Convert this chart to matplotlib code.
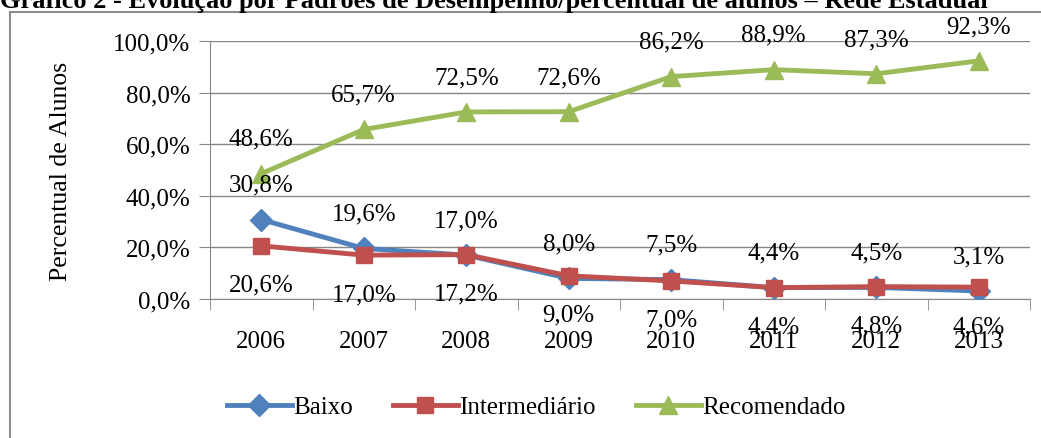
import matplotlib.pyplot as plt
from matplotlib.patches import Rectangle

plt.rcParams['font.family'] = ['Liberation Serif', 'DejaVu Serif']

anos = ['2006', '2007', '2008', '2009', '2010', '2011', '2012', '2013']
baixo = [30.8, 19.6, 17.0, 8.0, 7.5, 4.4, 4.5, 3.1]
intermediario = [20.6, 17.0, 17.2, 9.0, 7.0, 4.4, 4.8, 4.6]
recomendado = [48.6, 65.7, 72.5, 72.6, 86.2, 88.9, 87.3, 92.3]

titulo = 'Gráfico 2 - Evolução por Padrões de Desempenho/percentual de alunos – Rede Estadual'

fig = plt.figure(figsize=(10.41, 4.39), dpi=100)
ax = fig.add_axes([210 / 1041, 1 - 300 / 439, 820 / 1041, 258 / 439])

# moldura cinza do gráfico
fig.patches.append(Rectangle((10 / 1041, -0.1), 1.2, 1 - 13 / 439 + 0.1,
                             transform=fig.transFigure, fill=False,
                             edgecolor='#8c8c8c', linewidth=1.5))
fig.text(0.0, 1 - 8 / 439, titulo, fontsize=19, fontweight='bold',
         ha='left', va='baseline')

x = list(range(len(anos)))
series = [
    ('Baixo', baixo, '#4F81BD', 'D', 11, 25),
    ('Intermediário', intermediario, '#C0504D', 's', 12, -28),
    ('Recomendado', recomendado, '#9BBB59', '^', 13, 25),
]
for nome, vals, cor, mk, ms, off in series:
    ax.plot(x, vals, color=cor, linewidth=3.5, marker=mk, markersize=ms,
            label=nome, zorder=3)
    for xi, v in zip(x, vals):
        ax.annotate(f'{v:.1f}%'.replace('.', ','), (xi, v),
                    xytext=(0, off), textcoords='offset points',
                    ha='center', va='center', fontsize=18, zorder=4)

ax.set_xlim(-0.5, len(anos) - 0.5)
ax.set_ylim(0, 100)
ax.set_yticks(range(0, 101, 20))
ax.set_yticklabels([f'{v},0%' for v in range(0, 101, 20)], fontsize=18)
ax.set_xticks(x)
ax.set_xticklabels(anos, fontsize=18)
ax.set_xticks([i - 0.5 for i in range(len(anos) + 1)], minor=True)
ax.tick_params(axis='x', which='major', length=0, pad=22)
ax.tick_params(axis='x', which='minor', length=8, color='#878787')
ax.tick_params(axis='y', length=8, color='#878787', pad=6)
ax.grid(axis='y', color='#878787', linewidth=1)
ax.set_axisbelow(True)
for s in ['top', 'right']:
    ax.spines[s].set_visible(False)
ax.spines['left'].set_color('#878787')
ax.spines['bottom'].set_color('#878787')
ax.set_ylabel('Percentual de Alunos', fontsize=18.5, labelpad=30)

fig.legend(loc='center', bbox_to_anchor=(536 / 1041, 1 - 408 / 439), ncol=3,
           frameon=False, fontsize=18, handlelength=2.6, handletextpad=0.05,
           columnspacing=1.6)

fig.savefig('out.png', dpi=100)
